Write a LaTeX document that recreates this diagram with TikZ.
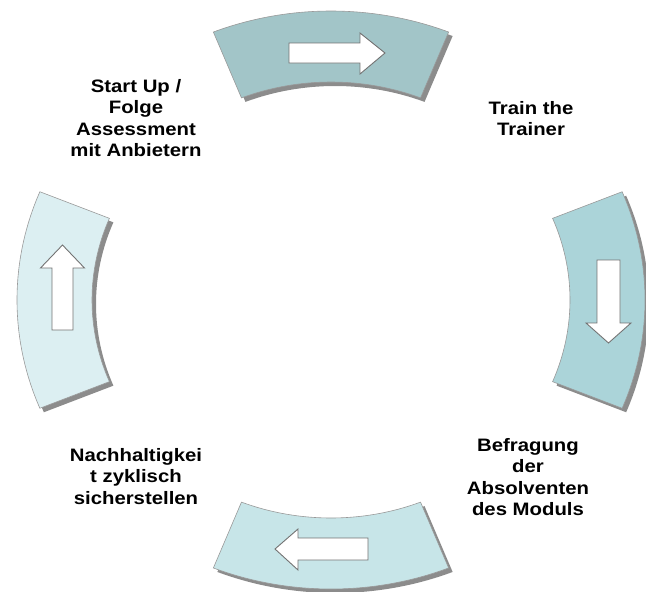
\documentclass[tikz,border=0pt]{standalone}
\usepackage{fontspec}
\setmainfont{Liberation Sans}[FakeStretch=1.13]
\definecolor{segA}{HTML}{A2C5C8}
\definecolor{segB}{HTML}{ABD4D9}
\definecolor{segC}{HTML}{C7E5E8}
\definecolor{segD}{HTML}{DCEFF2}
\newcommand\ringsector[2]{(#1:314 and 289) arc[start angle=#1,end angle=#2,x radius=314,y radius=289] -- (#2:239 and 218) arc[start angle=#2,end angle=#1,x radius=239,y radius=218] -- cycle}
\begin{document}
\begin{tikzpicture}[x=1pt,y=-1pt,
  seg/.style={draw=black!40, line width=0.6pt},
  shad/.style={fill=black!45},
  blockarrow/.style={draw=black!55, fill=white, line width=0.9pt, line join=miter},
  lbl/.style={inner sep=0pt, align=center, anchor=north, text=black,
    font=\bfseries\fontsize{18}{21.5}\selectfont}]
\useasboundingbox (0,0) rectangle (646,592);
% shadows
\begin{scope}[shift={(335,304)}]
  \fill[shad] \ringsector{248}{292};
  \fill[shad] \ringsector{-22}{22};
  \fill[shad] \ringsector{68}{112};
  \fill[shad] \ringsector{158}{202};
\end{scope}
% segments
\begin{scope}[shift={(331,300)}]
  \filldraw[seg, fill=segA] \ringsector{248}{292};
  \filldraw[seg, fill=segB] \ringsector{-22}{22};
  \filldraw[seg, fill=segC] \ringsector{68}{112};
  \filldraw[seg, fill=segD] \ringsector{158}{202};
\end{scope}
% block arrows
\draw[blockarrow] (289,43) -- (360,43) -- (360,33) -- (385,53) -- (360,74) -- (360,63) -- (289,63) -- cycle;
\draw[blockarrow] (597,260) -- (620,260) -- (620,323) -- (631,323) -- (608.5,343) -- (586,323) -- (597,323) -- cycle;
\draw[blockarrow] (368,538) -- (298,538) -- (298,529) -- (275,549) -- (298,570) -- (298,560) -- (368,560) -- cycle;
\draw[blockarrow] (52,330) -- (52,268) -- (40.5,268) -- (62.5,245) -- (84.5,268) -- (73,268) -- (73,330) -- cycle;
% labels
\node[lbl] (start) at (136,79) {Start Up /\\Folge\\Assessment\\mit Anbietern};
\node[lbl] (train) at (531,101) {Train the\\Trainer};
\node[lbl] (befr) at (528,438) {Befragung\\der\\Absolventen\\des Moduls};
\node[lbl] (nach) at (136,448) {Nachhaltigkei\\t zyklisch\\sicherstellen};
\end{tikzpicture}
\end{document}
